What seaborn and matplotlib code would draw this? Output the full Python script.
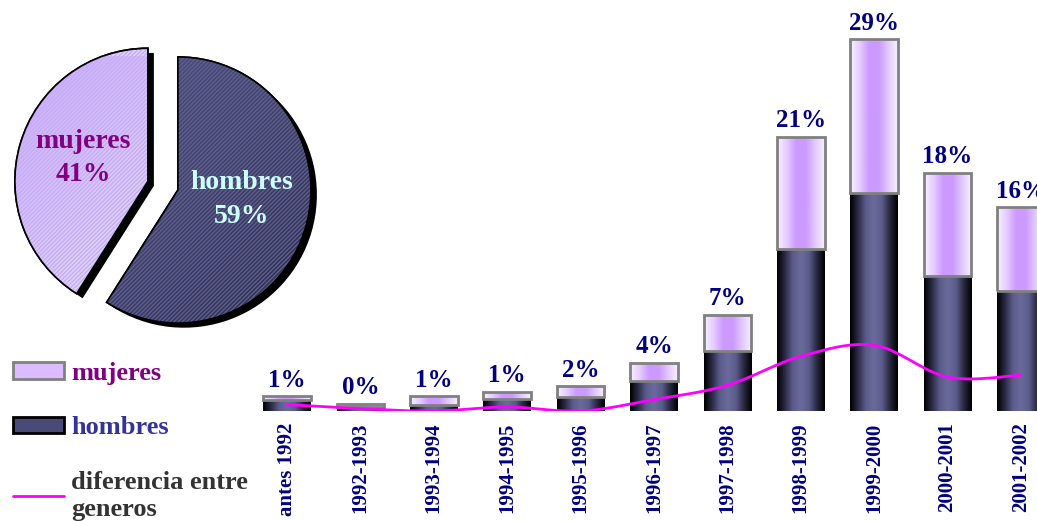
import numpy as np
import matplotlib
matplotlib.use('Agg')
import matplotlib.pyplot as plt
import seaborn as sns
from matplotlib.colors import LinearSegmentedColormap
from matplotlib.patches import Patch, Wedge
from matplotlib.lines import Line2D

# data (in % of all students)
periods = ['antes 1992', '1992-1993', '1993-1994', '1994-1995', '1995-1996', '1996-1997',
           '1997-1998', '1998-1999', '1999-2000', '2000-2001', '2001-2002']
hombres = [0.84, 0.30, 0.51, 0.97, 1.06, 2.28, 4.56, 12.34, 16.60, 10.32, 9.13]
mujeres = [0.30, 0.26, 0.63, 0.51, 0.84, 1.39, 2.76, 8.52, 11.69, 7.80, 6.39]
diferencia = [0.51, 0.20, 0.02, 0.33, 0.02, 0.89, 1.98, 4.18, 5.02, 2.60, 2.75]
total_labels = ['1%', '0%', '1%', '1%', '2%', '4%', '7%', '21%', '29%', '18%', '16%']

pie_labels = ['hombres', 'mujeres']
pie_shares = [59, 41]

sns.set_style('white')
plt.rcParams['font.family'] = ['Liberation Serif', 'DejaVu Serif']
plt.rcParams['font.weight'] = 'bold'

NAVY = '#000080'
cmap_h = LinearSegmentedColormap.from_list('h', ['#000000', '#2c2c48', '#5c5c8c', '#6a6a9c',
                                                 '#5c5c8c', '#2a2a44', '#000000'])
cmap_m = LinearSegmentedColormap.from_list('m', ['#f6f0ff', '#e4ccff', '#cc99ff', '#cc99ff',
                                                 '#e0c8ff', '#f6f0ff'])


def fill_gradient(ax, patch, cmap):
    # horizontal cylinder shading clipped to the bar
    x0, y0 = patch.get_x(), patch.get_y()
    w, h = patch.get_width(), patch.get_height()
    prof = np.linspace(0, 1, 64)[None, :]
    im = ax.imshow(prof, extent=[x0, x0 + w, y0, y0 + h], aspect='auto', cmap=cmap,
                   zorder=patch.get_zorder() - 0.1, interpolation='bilinear')
    im.set_clip_path(patch)
    patch.set_facecolor('none')


def smooth(xs, ys, n=24):
    # catmull-rom through the points, like the smoothed line of the original
    pts = np.column_stack([xs, ys]).astype(float)
    p = np.vstack([pts[0], pts, pts[-1]])
    out = []
    t = np.linspace(0, 1, n, endpoint=False)[:, None]
    for i in range(1, len(p) - 2):
        p0, p1, p2, p3 = p[i - 1], p[i], p[i + 1], p[i + 2]
        seg = 0.5 * (2 * p1 + (-p0 + p2) * t + (2 * p0 - 5 * p1 + 4 * p2 - p3) * t ** 2
                     + (-p0 + 3 * p1 - 3 * p2 + p3) * t ** 3)
        out.append(seg)
    out.append(pts[-1:])
    return np.vstack(out)


fig = plt.figure(figsize=(10.37, 5.21), dpi=100)

# ---- stacked bars ----
ax = fig.add_axes([250.3 / 1037, 109.7 / 521, 807.4 / 1037, 411.3 / 521])
x = np.arange(len(periods))
sns.barplot(x=periods, y=hombres, color='#5c5c8c', width=0.646, ax=ax, linewidth=0, zorder=2)
ax.bar(x, mujeres, bottom=hombres, width=0.646, color='#cc99ff', edgecolor='#808080',
       linewidth=2, zorder=2)
for i, p in enumerate(ax.patches):
    fill_gradient(ax, p, cmap_h if i < len(periods) else cmap_m)

curve = smooth(x, diferencia)
ax.plot(curve[:, 0], curve[:, 1], color='#ff00ff', lw=2, zorder=4)

for i, lab in enumerate(total_labels):
    ax.text(i, hombres[i] + mujeres[i] + 0.35, lab, ha='center', va='bottom',
            fontsize=18, fontweight='bold', color=NAVY, clip_on=False)

ax.set_xlim(-0.5, 10.5)
ax.set_ylim(0, 411.3 / 13.15)
ax.set_xticks(x)
ax.set_xticklabels(periods, rotation=90, fontsize=15, fontweight='bold', color=NAVY, va='top')
ax.tick_params(axis='x', length=0, pad=8)
ax.set_yticks([])
sns.despine(ax=ax, left=True, bottom=True)

# ---- pie ----
pax = fig.add_axes([5 / 1037, 178 / 521, 332.5 / 1037, 306 / 521])
explode = [0, 0.235]
# drop shadow
pax.pie(pie_shares, explode=explode, startangle=90, counterclock=False,
        colors=['#000000', '#000000'], center=(0.045, -0.035), radius=1,
        wedgeprops=dict(linewidth=0))
wedges, _, autotexts = pax.pie(
    pie_shares, explode=explode, startangle=90, counterclock=False,
    colors=['#4a4a78', '#e2d2ff'], pctdistance=0.55,
    autopct=lambda pct: '', wedgeprops=dict(linewidth=1.2, edgecolor='#000000'))

pie_cmaps = [LinearSegmentedColormap.from_list('ph', ['#55558a', '#44446e', '#2a2a48']),
             LinearSegmentedColormap.from_list('pm', ['#c8a4ff', '#e2d2ff', '#ffffff'])]
yy, xx = np.mgrid[1:-1:200j, -1.4:1.2:200j]
diag = (xx - yy)
for w, cm, lab, share, at in zip(wedges, pie_cmaps, pie_labels, pie_shares, autotexts):
    im = pax.imshow(diag, extent=[-1.4, 1.2, -1, 1], cmap=cm, zorder=w.get_zorder() + 0.05,
                    aspect='auto')
    im.set_clip_path(w)
    at.set_text(f'{lab}\n{share}%')

hatch_cols = ['#5e5e90', '#c4aef0']
for w, hc in zip(wedges, hatch_cols):
    hw = Wedge(w.center, w.r, w.theta1, w.theta2, facecolor='none',
               edgecolor=hc, hatch='////////', linewidth=0, zorder=w.get_zorder() + 0.1)
    pax.add_patch(hw)
    edge = Wedge(w.center, w.r, w.theta1, w.theta2, facecolor='none',
                 edgecolor='#000000', linewidth=1.2, zorder=w.get_zorder() + 0.2)
    pax.add_patch(edge)

for at, c in zip(autotexts, ['#ccffff', '#800080']):
    at.set_color(c)
    at.set_fontsize(20)
    at.set_fontweight('bold')
    at.set_zorder(10)
    at.set_linespacing(1.45)
# nudge the hombres label up a little, as in the original
hx, hy = autotexts[0].get_position()
autotexts[0].set_position((hx - 0.05, hy + 0.08))
mx, my = autotexts[1].get_position()
autotexts[1].set_position((mx + 0.04, my + 0.02))

pax.set_xlim(-1.3, 1.2)
pax.set_ylim(-1.15, 1.15)
pax.set_aspect('auto')

# ---- legend ----
handles = [Patch(facecolor='#dcbcff', edgecolor='#808080', linewidth=2),
           Patch(facecolor='#4a4a78', edgecolor='#000000', linewidth=2),
           Line2D([0], [0], color='#ff00ff', lw=2)]
leg = fig.legend(handles, ['mujeres', 'hombres', 'diferencia entre\ngeneros'],
                 loc='upper left', bbox_to_anchor=(0.0125, 0.306), frameon=False,
                 prop=dict(family='Liberation Serif', weight='bold', size=19),
                 handlelength=1.95, handleheight=0.6, handletextpad=0.25,
                 labelspacing=1.2, borderpad=0, borderaxespad=0)
for t, c in zip(leg.get_texts(), ['#800080', '#333399', '#333333']):
    t.set_color(c)
    t.set_linespacing(1.2)

fig.savefig('out.png', dpi=100)
